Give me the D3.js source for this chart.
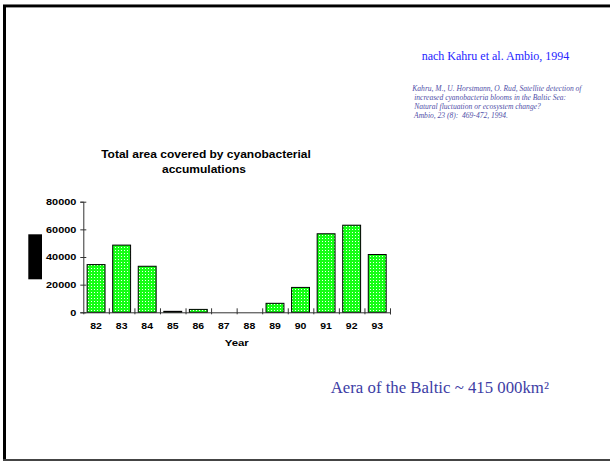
<!DOCTYPE html>
<html>
<head>
<meta charset="utf-8">
<script src="https://cdn.jsdelivr.net/npm/d3@7"></script>
<style>
  html, body { margin: 0; padding: 0; background: #fff; }
  svg { display: block; }
</style>
</head>
<body>
<script>
// Yearly cyanobacterial accumulation area (km²), Baltic Sea
const years = ["82", "83", "84", "85", "86", "87", "88", "89", "90", "91", "92", "93"];
const areaValues = [34500, 48600, 33300, 700, 2100, 0, 0, 6500, 18000, 56800, 63000, 41800];
const yTicks = [0, 20000, 40000, 60000, 80000];

const chartTitle = ["Total area covered by cyanobacterial", "accumulations"];
const xTitle = "Year";
const sourceLine = "nach Kahru et al. Ambio, 1994";
const citation = [
  "Kahru, M., U. Horstmann, O. Rud, Satellite detection of",
  " increased cyanobacteria blooms in the Baltic Sea:",
  " Natural fluctuation or ecosystem change?",
  " Ambio, 23 (8):  469-472, 1994."
];
const note = "Aera of the Baltic ~ 415 000km²";

const W = 610, H = 461;
const sans = "'Liberation Sans', Arial, sans-serif";
const serif = "'Liberation Serif', 'Times New Roman', serif";

const svg = d3.select("body").append("svg").attr("width", W).attr("height", H);

// slide frame
svg.append("rect").attr("x", 3).attr("y", 4).attr("width", W - 3).attr("height", 1).attr("fill", "#777");
svg.append("rect").attr("x", 3).attr("y", 5).attr("width", W - 3).attr("height", 2.4).attr("fill", "#000");
svg.append("rect").attr("x", 3).attr("y", 5).attr("width", 3).attr("height", H - 5).attr("fill", "#000");
svg.append("rect").attr("x", 3).attr("y", 459).attr("width", W - 3).attr("height", 2).attr("fill", "#444");

// dotted green fill
const defs = svg.append("defs");
const pat = defs.append("pattern").attr("id", "dots")
  .attr("patternUnits", "userSpaceOnUse").attr("width", 3).attr("height", 3);
pat.append("rect").attr("width", 3).attr("height", 3).attr("fill", "#14ff14");
pat.append("rect").attr("x", 1).attr("y", 1).attr("width", 1).attr("height", 1).attr("fill", "#eeffee");

const x0 = 83.3, x1 = 390, yBase = 312.3, yTop = 201.7;

const x = d3.scaleBand().domain(years).range([x0, x1]).paddingInner(0.3).paddingOuter(0.15);
const xEdges = d3.scaleLinear().domain([0, years.length]).range([x0, x1]);
const y = d3.scaleLinear().domain([0, 80000]).range([yBase, yTop]);

// bars
svg.append("g").selectAll("rect").data(years.map((d, i) => ({ year: d, v: areaValues[i] })))
  .join("rect")
  .attr("x", d => x(d.year))
  .attr("width", x.bandwidth())
  .attr("y", d => y(d.v))
  .attr("height", d => yBase - y(d.v))
  .attr("fill", "url(#dots)")
  .attr("stroke", "#000")
  .attr("stroke-width", 1);

// y axis
const gy = svg.append("g").attr("transform", `translate(${x0},0)`)
  .call(d3.axisLeft(y).tickValues(yTicks).tickFormat(d3.format("d")).tickSize(3).tickPadding(0));
gy.select(".domain").attr("stroke", "#333");
gy.selectAll(".tick line").attr("x1", 3).attr("stroke", "#333");
gy.selectAll(".tick text")
  .attr("font-family", sans).attr("font-weight", "bold").attr("font-size", 8.2)
  .attr("fill", "#000")
  .attr("x", -7 / 1.33).attr("dy", "0.35em")
  .attr("transform", "scale(1.33,1)");

// x axis: boundary ticks
const gxe = svg.append("g").attr("transform", `translate(0,${yBase})`)
  .call(d3.axisBottom(xEdges).tickValues(d3.range(1, years.length + 1)).tickSize(2).tickFormat(""));
gxe.select(".domain").attr("stroke", "#333");
gxe.selectAll(".tick line").attr("y1", -4).attr("stroke", "#333");

// x axis: year labels
const gx = svg.append("g").attr("transform", `translate(0,${yBase})`)
  .call(d3.axisBottom(x).tickSize(0).tickPadding(0));
gx.select(".domain").remove();
gx.selectAll(".tick text")
  .attr("font-family", sans).attr("font-weight", "bold").attr("font-size", 8.2)
  .attr("fill", "#000")
  .attr("y", 16.7).attr("dy", 0)
  .attr("transform", "scale(1.28,1)");

// helper for horizontally widened chart text
function wideText(tx, ty, str, size, sx) {
  svg.append("g").attr("transform", `translate(${tx},${ty}) scale(${sx},1)`)
    .append("text")
    .attr("text-anchor", "middle")
    .attr("font-family", sans).attr("font-weight", "bold").attr("font-size", size)
    .attr("fill", "#000")
    .text(str);
}
wideText(206, 158, chartTitle[0], 10, 1.2);
wideText(204, 173, chartTitle[1], 10, 1.2);
wideText(236.7, 345.7, xTitle, 9.5, 1.2);

// y-axis title block
svg.append("rect").attr("x", 28.3).attr("y", 234.3).attr("width", 13.7).attr("height", 45).attr("fill", "#000");

// source and citation
svg.append("text").attr("x", 421.7).attr("y", 60)
  .attr("font-family", serif).attr("font-size", 12).attr("fill", "#2424ff")
  .text(sourceLine);

svg.append("g").selectAll("text").data(citation).join("text")
  .attr("x", 412.3).attr("y", (d, i) => 90.7 + i * 9)
  .attr("font-family", serif).attr("font-style", "italic").attr("font-size", 7.55)
  .attr("fill", "#5050a8")
  .attr("xml:space", "preserve")
  .style("white-space", "pre")
  .text(d => d);

svg.append("text").attr("x", 330.7).attr("y", 392.7)
  .attr("font-family", serif).attr("font-size", 16.8).attr("fill", "#3d3da5")
  .text(note);
</script>
</body>
</html>
